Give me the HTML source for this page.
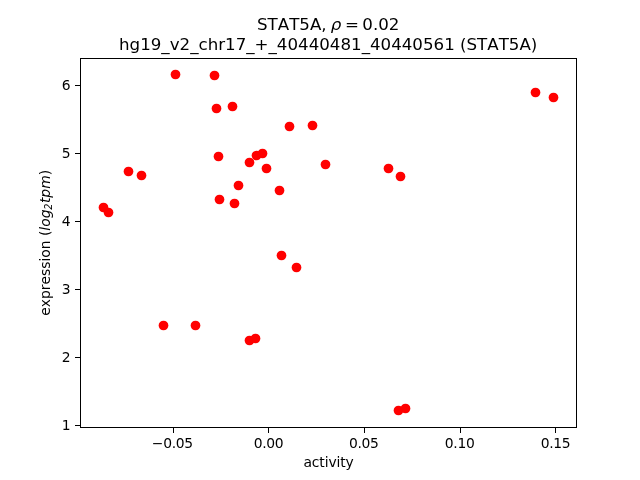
<!DOCTYPE html>
<html lang="en"><head><meta charset="utf-8"><title>STAT5A activity vs expression</title>
<style>
html,body{margin:0;padding:0;background:#fff;width:640px;height:480px;overflow:hidden}
svg{display:block;will-change:transform}
text{font-family:"DejaVu Sans","Liberation Sans",sans-serif;fill:#000;font-kerning:none}
.t{font-size:13.889px}
.T{font-size:16.667px}
.i{font-style:oblique}
</style></head><body>
<svg width="640" height="480" viewBox="0 0 640 480">
<rect width="640" height="480" fill="#fff"/>
<g fill="#f00" stroke="none">
<circle cx="175.50" cy="74.50" r="4.86"/>
<circle cx="214.50" cy="75.50" r="4.86"/>
<circle cx="216.50" cy="108.50" r="4.86"/>
<circle cx="232.50" cy="106.50" r="4.86"/>
<circle cx="289.50" cy="126.50" r="4.86"/>
<circle cx="312.50" cy="125.50" r="4.86"/>
<circle cx="218.50" cy="156.50" r="4.86"/>
<circle cx="249.50" cy="162.50" r="4.86"/>
<circle cx="256.50" cy="155.50" r="4.86"/>
<circle cx="262.50" cy="153.50" r="4.86"/>
<circle cx="266.50" cy="168.50" r="4.86"/>
<circle cx="128.50" cy="171.50" r="4.86"/>
<circle cx="141.50" cy="175.50" r="4.86"/>
<circle cx="238.50" cy="185.50" r="4.86"/>
<circle cx="279.50" cy="190.50" r="4.86"/>
<circle cx="219.50" cy="199.50" r="4.86"/>
<circle cx="234.50" cy="203.50" r="4.86"/>
<circle cx="103.50" cy="207.50" r="4.86"/>
<circle cx="108.50" cy="212.50" r="4.86"/>
<circle cx="535.50" cy="92.50" r="4.86"/>
<circle cx="553.50" cy="97.50" r="4.86"/>
<circle cx="325.50" cy="164.50" r="4.86"/>
<circle cx="388.50" cy="168.50" r="4.86"/>
<circle cx="400.50" cy="176.50" r="4.86"/>
<circle cx="281.50" cy="255.50" r="4.86"/>
<circle cx="296.50" cy="267.50" r="4.86"/>
<circle cx="163.50" cy="325.50" r="4.86"/>
<circle cx="195.50" cy="325.50" r="4.86"/>
<circle cx="249.50" cy="340.50" r="4.86"/>
<circle cx="255.50" cy="338.50" r="4.86"/>
<circle cx="398.50" cy="410.50" r="4.86"/>
<circle cx="405.50" cy="408.50" r="4.86"/>
</g>
<g fill="#000" stroke="none" shape-rendering="crispEdges">
<rect x="173" y="428" width="1" height="5"/>
<rect x="268" y="428" width="1" height="5"/>
<rect x="364" y="428" width="1" height="5"/>
<rect x="460" y="428" width="1" height="5"/>
<rect x="555" y="428" width="1" height="5"/>
<rect x="75" y="425" width="5" height="1"/>
<rect x="75" y="357" width="5" height="1"/>
<rect x="75" y="289" width="5" height="1"/>
<rect x="75" y="221" width="5" height="1"/>
<rect x="75" y="153" width="5" height="1"/>
<rect x="75" y="85" width="5" height="1"/>
<rect x="80" y="58" width="497" height="1"/><rect x="80" y="427" width="497" height="1"/><rect x="80" y="58" width="1" height="370"/><rect x="576" y="58" width="1" height="370"/>
</g>
<g class="t" text-anchor="middle" letter-spacing="-0.3">
<text x="172.35" y="447.8">−0.05</text>
<text x="268.55" y="447.8">0.00</text>
<text x="363.80" y="447.8">0.05</text>
<text x="459.65" y="447.8">0.10</text>
<text x="555.55" y="447.8">0.15</text>
</g><g class="t" text-anchor="end">
<text x="70.5" y="429.80">1</text>
<text x="70.5" y="361.80">2</text>
<text x="70.5" y="293.80">3</text>
<text x="70.5" y="225.80">4</text>
<text x="70.5" y="157.80">5</text>
<text x="70.5" y="89.80">6</text>
</g>
<text class="t" text-anchor="middle" letter-spacing="-0.12" x="328.55" y="466.5">activity</text>
<text class="t" text-anchor="middle" transform="translate(49.7 242.9) rotate(-90)">expression (<tspan class="i">log</tspan><tspan class="i" font-size="9.72px" dy="2.7" dx="-0.3">2</tspan><tspan class="i" dy="-2.7" dx="0.5">tpm</tspan>)</text>
<text class="T" y="30.1"><tspan x="257.0">STAT5A,</tspan> <tspan class="i" x="330.7">ρ</tspan> <tspan x="344.95">=</tspan> <tspan x="362.3">0.02</tspan></text>
<text class="T" text-anchor="middle" x="328.2" y="50.05">hg19_v2_chr17_+_40440481_40440561 (STAT5A)</text>
</svg></body></html>
